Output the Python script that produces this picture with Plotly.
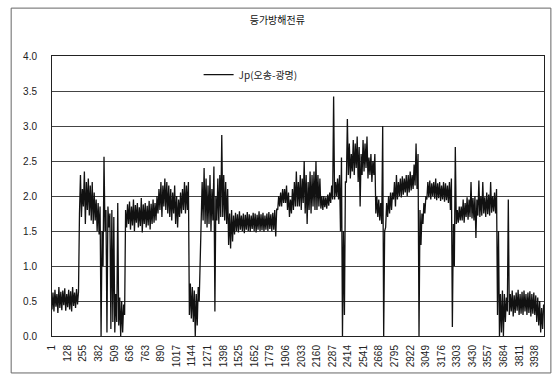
import plotly.graph_objects as go

# Readings are grouped into bins of 16 samples; each bin keeps its lowest and highest value
bin_size = 16

# Jp(오송-광명): per-bin minimum
jp_low = [
    0.38, 0.35, 0.42, 0.33, 0.4, 0.37, 0.44, 0.36, 0.41, 0.38, 0.35, 0.43, 0.4, 0.45,
    1.75, 1.7, 1.85, 1.6, 1.8, 1.72, 1.65,
    1.6, 1.65, 1.5, 1.45,
    0.0, 1.0,
    1.5, 0.05, 1.55, 0.1,
    0.2, 0.05, 0.2,
    0.15, 0.0, 0.05, 0.3,
    1.55, 1.6, 1.52, 1.58, 1.5, 1.62, 1.55, 1.57, 1.48, 1.6, 1.55, 1.58, 1.52, 1.6, 1.62, 1.65,
    1.75, 1.8, 1.7, 1.85, 1.8, 1.75,
    1.7, 1.65, 1.75, 1.6, 1.55, 1.7, 1.75, 1.8, 1.75, 1.8,
    0.3, 0.25, 0.2, 0.0, 0.15,
    0.5,
    1.55, 1.65, 1.6, 1.55, 1.6, 1.5, 1.65,
    0.35,
    1.65, 1.6, 1.7,
    1.7, 1.65, 1.6,
    1.3, 1.25, 1.35, 1.45, 1.5, 1.48, 1.52, 1.5, 1.47, 1.52, 1.5, 1.49, 1.53, 1.5, 1.48,
    1.52, 1.5, 1.51, 1.49, 1.52, 1.5, 1.53, 1.5, 1.52, 1.42,
    1.8, 1.85, 1.85, 1.9, 1.9, 1.8, 1.7,
    1.75, 1.8, 1.85, 1.85,
    1.85, 1.8, 1.9, 1.75, 1.6, 1.8, 1.75, 1.85, 1.8, 1.8, 1.85,
    1.82, 1.8, 1.84, 1.82, 1.86,
    1.9, 1.95, 1.95, 2.0, 1.95,
    1.5, 0.0, 0.3, 2.2,
    2.3, 2.25, 2.35, 2.3, 2.4, 2.2, 1.85, 2.3, 2.35, 2.4,
    2.25, 2.3, 2.2, 2.3,
    1.75, 1.7, 1.65,
    1.6, 0.0,
    1.55, 1.7, 1.75, 1.8,
    1.95, 1.85, 1.95, 2.0, 1.98, 2.02, 2.05, 2.0, 2.05, 2.08, 2.1, 2.15, 2.1,
    0.0,
    1.3, 1.6, 1.75,
    1.95, 1.98, 1.95, 2.0, 1.96, 1.94, 1.97, 1.93, 1.95, 1.92, 1.94, 1.9, 1.8,
    0.13, 1.0,
    1.6, 1.62, 1.65,
    1.65, 1.62, 1.7, 1.66, 1.7, 1.68, 1.65, 1.4, 1.72, 1.7, 1.72, 1.75, 1.7, 1.74, 1.72, 1.76, 1.78, 1.75,
    0.3, 0.0, 0.05,
    0.0, 0.2,
    0.35,
    0.3, 0.35, 0.28, 0.33, 0.36, 0.3, 0.32, 0.3, 0.35, 0.3, 0.33, 0.28, 0.32, 0.3,
    0.2, 0.15, 0.05, 0.1,
]

# Jp(오송-광명): per-bin maximum
jp_high = [
    0.62, 0.66, 0.6, 0.7, 0.63, 0.65, 0.68, 0.6, 0.66, 0.64, 0.7, 0.62, 0.67, 0.63,
    2.3, 2.1, 2.35, 2.2, 2.25, 2.15, 2.2,
    2.05, 1.95, 1.9, 1.85,
    1.5, 2.56,
    1.8, 1.85, 1.75, 1.8,
    1.7, 0.6, 1.9,
    0.55, 0.5, 0.45, 1.8,
    1.88, 1.92, 1.85, 1.95, 1.87, 1.9, 1.84, 1.97, 1.88, 1.9, 1.86, 1.93, 1.89, 1.95, 1.9, 2.0,
    2.1, 2.2, 2.15, 2.25, 2.2, 2.15,
    2.1, 2.05, 2.15, 2.0, 1.95, 2.05, 2.1, 2.2, 2.15, 2.2,
    0.75, 0.7, 0.65, 0.6, 0.7,
    1.0,
    2.2, 2.4, 2.25, 2.15, 2.3, 2.1, 2.42,
    2.0,
    2.25, 2.3, 2.87,
    2.3, 2.2, 2.1,
    1.75, 1.8, 1.72, 1.76, 1.74, 1.78, 1.72, 1.75, 1.73, 1.77, 1.74, 1.72, 1.76, 1.75, 1.73,
    1.78, 1.74, 1.76, 1.72, 1.75, 1.77, 1.74, 1.76, 1.8, 1.82,
    2.0, 2.05, 2.1, 2.1, 2.15, 2.05, 1.95,
    2.1, 2.2, 2.35, 2.2,
    2.3, 2.25, 2.5, 2.3, 2.2, 2.35, 2.3, 2.35, 2.5, 2.3, 2.25,
    2.0, 2.0, 1.98, 2.02, 2.05,
    2.15, 3.42, 2.2, 2.25, 2.3,
    2.55, 1.5, 2.2, 3.1,
    2.75, 2.6, 2.8, 2.75, 2.85, 2.7, 2.6, 2.8, 2.75, 2.85,
    2.55, 2.6, 2.5, 2.6,
    2.0, 1.95, 1.9,
    3.0, 1.5,
    1.9, 2.0, 2.05, 2.05,
    2.2, 2.3, 2.2, 2.25, 2.28, 2.25, 2.3, 2.3, 2.35, 2.3, 2.45, 2.75, 2.6,
    1.8,
    1.75, 1.9, 2.0,
    2.2, 2.22, 2.18, 2.2, 2.25, 2.18, 2.2, 2.15, 2.2, 2.18, 2.15, 2.2, 2.25,
    1.6, 2.7,
    1.8, 1.85, 1.85,
    1.95, 1.9, 1.98, 1.95, 2.2, 1.97, 2.0, 1.95, 2.22, 2.0, 2.2, 1.98, 2.05, 2.02, 2.2, 2.0, 2.05, 2.1,
    1.5, 0.6, 0.65,
    0.6, 0.55,
    1.95,
    0.6, 0.65, 0.58, 0.62, 0.66, 0.6, 0.63, 0.65, 0.6, 0.62, 0.64, 0.6, 0.62, 0.58,
    0.55, 0.5, 0.4, 0.45,
]

# Trace runs through each bin's minimum then maximum
sample_index = []
jp_series = []
for i, (lo, hi) in enumerate(zip(jp_low, jp_high)):
    start = 1 + bin_size * i
    sample_index += [start, start + bin_size // 2]
    jp_series += [lo, hi]

# Category labels shown along the bottom axis
x_tick_vals = list(range(1, 3939, 127))
x_tick_labels = [str(v) for v in x_tick_vals]

y_tick_vals = [0.0, 0.5, 1.0, 1.5, 2.0, 2.5, 3.0, 3.5, 4.0]

title_text = "등가방해전류"
series_name = "Jp(오송-광명)"

font_family = "Liberation Sans, Arial, Noto Sans CJK KR, sans-serif"

fig = go.Figure()
fig.add_trace(go.Scatter(
    x=sample_index,
    y=jp_series,
    mode="lines",
    name=series_name,
    line=dict(color="#111111", width=1.3),
))

fig.update_layout(
    width=558,
    height=379,
    margin=dict(l=52, r=14, t=56, b=43),
    paper_bgcolor="white",
    plot_bgcolor="white",
    showlegend=True,
    title=dict(
        text=title_text,
        x=0.497, xanchor="center",
        y=0.945, yanchor="middle",
        font=dict(family="Noto Sans CJK KR", size=10, color="#111111"),
    ),
    legend=dict(
        x=0.298, y=0.985, xanchor="left", yanchor="top",
        bgcolor="rgba(0,0,0,0)",
        font=dict(family="Noto Sans CJK KR, Liberation Sans", size=10, color="#222222"),
        itemwidth=30,
    ),
    xaxis=dict(
        range=[1, 4012],
        tickmode="array",
        tickvals=x_tick_vals,
        ticktext=x_tick_labels,
        tickangle=-90,
        tickfont=dict(family=font_family, size=10, color="#222222"),
        showgrid=False,
        zeroline=False,
        showline=True,
        linecolor="#222222",
        linewidth=1,
        mirror=True,
        ticks="",
        ticklabelstandoff=4,
    ),
    yaxis=dict(
        range=[0, 4],
        tickmode="array",
        tickvals=y_tick_vals,
        tickformat=".1f",
        tickfont=dict(family=font_family, size=10, color="#222222"),
        showgrid=True,
        gridcolor="#444444",
        gridwidth=1,
        zeroline=False,
        showline=True,
        linecolor="#222222",
        linewidth=1,
        mirror=True,
        ticks="",
        ticklabelstandoff=12,
    ),
)

# Frame around the whole chart
fig.add_shape(
    type="rect", xref="paper", yref="paper",
    x0=-0.083, x1=1.014, y0=-0.132, y1=1.171,
    line=dict(color="#666666", width=1),
    fillcolor="rgba(0,0,0,0)",
    layer="below",
)

fig.write_html("out.html")
